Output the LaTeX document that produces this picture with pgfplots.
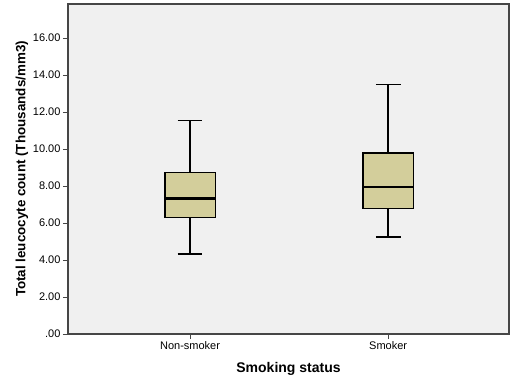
\documentclass[border=0pt]{standalone}
\usepackage{fontspec}
\setmainfont{Liberation Sans}
\usepackage{pgfplots}
\pgfplotsset{compat=1.18}
\definecolor{boxfill}{RGB}{211,206,155}
\definecolor{bgc}{RGB}{240,240,240}
\definecolor{axc}{RGB}{70,70,70}
\begin{document}
\begin{tikzpicture}
\useasboundingbox (-68bp,-56bp) rectangle (447bp,334bp);
\begin{axis}[
  scale only axis,
  width=441bp, height=330bp,
  xmin=0.384, xmax=2.61,
  ymin=0, ymax=17.84,
  axis background/.style={fill=bgc},
  axis line style={draw=axc, line width=1.1bp},
  xtick={1,2}, xticklabels={Non-smoker,Smoker},
  ytick={0,2,4,6,8,10,12,14,16},
  yticklabels={.00,2.00,4.00,6.00,8.00,10.00,12.00,14.00,16.00},
  tick align=outside,
  xtick pos=bottom, ytick pos=left,
  major tick length=5bp,
  tick style={draw=axc, line width=1bp},
  ticklabel style={font=\fontsize{11bp}{13bp}\selectfont},
  yticklabel style={xshift=1bp},
  xticklabel style={yshift=1bp},
  xlabel={\textbf{Smoking status}},
  xlabel style={font=\fontsize{14bp}{16bp}\selectfont, at={(axis description cs:0.5,0)}, anchor=center, yshift=-35bp},
  ylabel={\textbf{Total leucocyte count (Thousands/mm3)}},
  ylabel style={font=\fontsize{13.4bp}{15bp}\selectfont, at={(axis description cs:0,0.5)}, anchor=center, yshift=46bp},
]
% Non-smoker: LW=4.32 Q1=6.29 Med=7.34 Q3=8.74 UW=11.55 at x=1
\addplot[draw=black, line width=2bp] coordinates {(1,8.74) (1,11.55)};
\addplot[draw=black, line width=2bp] coordinates {(1,4.32) (1,6.29)};
\addplot[draw=black, line width=1.6bp] coordinates {(0.9375,11.55) (1.0625,11.55)};
\addplot[draw=black, line width=1.6bp] coordinates {(0.9375,4.32) (1.0625,4.32)};
\addplot[draw=black, line width=1.2bp, fill=boxfill] coordinates {(0.8735,6.29) (1.1265,6.29) (1.1265,8.74) (0.8735,8.74)} -- cycle;
\addplot[draw=black, line width=2.8bp] coordinates {(0.8735,7.34) (1.1265,7.34)};
% Smoker: LW=5.24 Q1=6.79 Med=7.95 Q3=9.78 UW=13.48 at x=2
\addplot[draw=black, line width=2bp] coordinates {(2,9.78) (2,13.48)};
\addplot[draw=black, line width=2bp] coordinates {(2,5.24) (2,6.79)};
\addplot[draw=black, line width=1.6bp] coordinates {(1.9375,13.48) (2.0625,13.48)};
\addplot[draw=black, line width=1.6bp] coordinates {(1.9375,5.24) (2.0625,5.24)};
\addplot[draw=black, line width=1.2bp, fill=boxfill] coordinates {(1.8735,6.79) (2.1265,6.79) (2.1265,9.78) (1.8735,9.78)} -- cycle;
\addplot[draw=black, line width=2.8bp] coordinates {(1.8735,7.95) (2.1265,7.95)};
\end{axis}
\end{tikzpicture}
\end{document}
